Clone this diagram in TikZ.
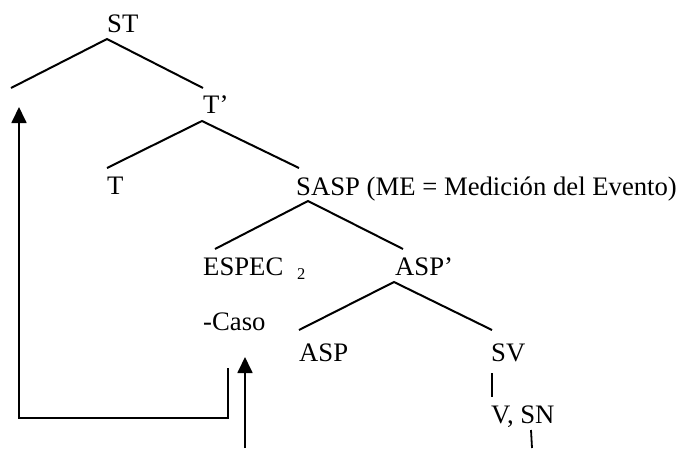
\documentclass[tikz,border=0pt]{standalone}
\usepackage{fontspec}
\setmainfont{Liberation Serif}
\usetikzlibrary{arrows.meta}
\begin{document}
\begin{tikzpicture}[x=1pt,y=-1pt,
  lbl/.style={anchor=base west,inner sep=0pt,font=\fontsize{26.7}{31}\selectfont},
  sub/.style={anchor=base west,inner sep=0pt,font=\fontsize{16.5}{19}\selectfont},
  branch/.style={line width=2pt},
  bar/.style={line width=1.3pt},
  link/.style={line width=1.8pt},
  arr/.style={link,-{Triangle[length=16pt,width=15pt]}}]
\useasboundingbox (0,0) rectangle (683,448);
% labels
\node[lbl] (st)    at (107,32)  {ST};
\node[lbl] (tbar)  at (203,113) {T’};
\node[lbl] (t)     at (107,194) {T};
\node[lbl] (sasp)  at (296,195) {SASP (ME = Medición del Evento)};
\node[lbl] (espec) at (203,275) {ESPEC};
\node[sub] (two)   at (297,279) {2};
\node[lbl] (aspbar) at (395,275) {ASP’};
\node[lbl] (caso)  at (203,330) {-Caso};
\node[lbl] (asp)   at (299,361) {ASP};
\node[lbl] (sv)    at (491,361) {SV};
\node[lbl] (vsn)   at (491,423) {V, SN};
% branch points
\coordinate (stA) at (107,39);
\coordinate (stL) at (11,88);
\coordinate (stR) at (203,88);
\coordinate (tA) at (202,121);
\coordinate (tL) at (107,168);
\coordinate (tR) at (299,168);
\coordinate (sA) at (308,201);
\coordinate (sL) at (215,249);
\coordinate (sR) at (403,249);
\coordinate (aA) at (394,282);
\coordinate (aL) at (299,330);
\coordinate (aR) at (492,330);
\coordinate (svB) at (492,373);
\coordinate (svE) at (492,397);
% movement paths
\coordinate (m1) at (228,368);
\coordinate (m2) at (228,418);
\coordinate (m3) at (19,418);
\coordinate (m4) at (19,107);
\coordinate (n1) at (245,448);
\coordinate (n2) at (245,357);
\coordinate (k1) at (531,430);
\coordinate (k2) at (532,448);
% tree
\draw[branch] (stL) -- (stA) -- (stR);
\draw[branch] (tL) -- (tA) -- (tR);
\draw[branch] (sL) -- (sA) -- (sR);
\draw[branch] (aL) -- (aA) -- (aR);
\draw[bar] (svB) -- (svE);
% arrows
\draw[arr] (m1) -- (m2) -- (m3) -- (m4);
\draw[arr] (n1) -- (n2);
\draw[link] (k1) -- (k2);
\end{tikzpicture}
\end{document}
